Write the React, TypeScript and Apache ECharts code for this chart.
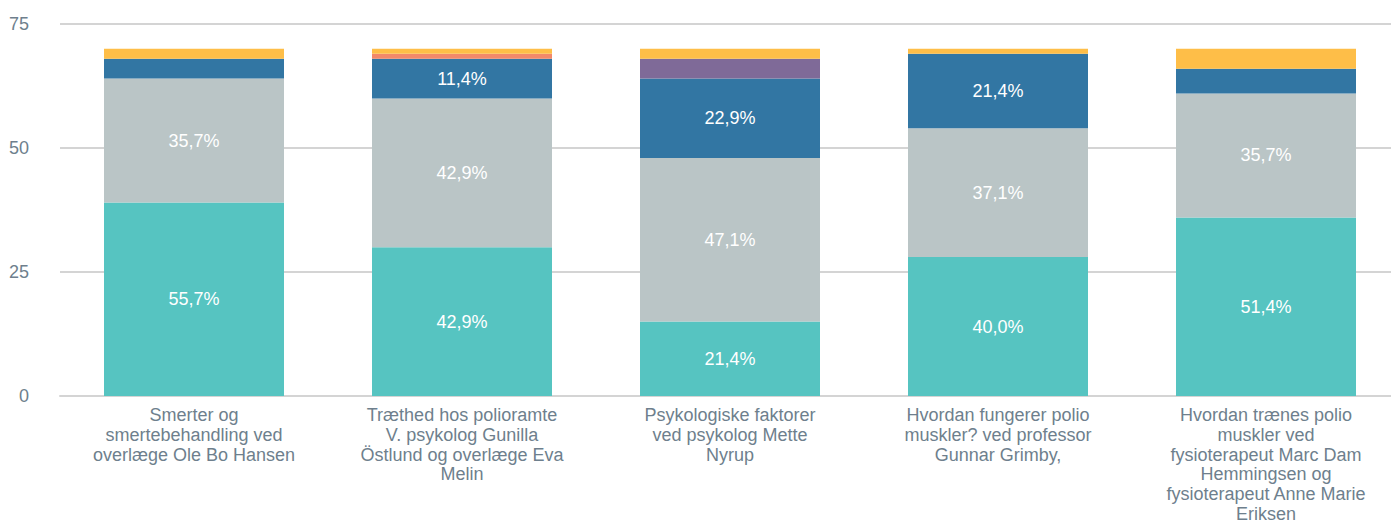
import React, { useEffect, useRef } from "react";
import * as echarts from "echarts";

const categories = [
  "Smerter og\nsmertebehandling ved\noverlæge Ole Bo Hansen",
  "Træthed hos polioramte\nV. psykolog Gunilla\nÖstlund og overlæge Eva\nMelin",
  "Psykologiske faktorer\nved psykolog Mette\nNyrup",
  "Hvordan fungerer polio\nmuskler? ved professor\nGunnar Grimby,",
  "Hvordan trænes polio\nmuskler ved\nfysioterapeut Marc Dam\nHemmingsen og\nfysioterapeut Anne Marie\nEriksen",
];

const tealValues = [39, 30, 15, 28, 36];
const grayValues = [25, 30, 33, 26, 25];
const blueValues = [4, 8, 16, 15, 5];
const purpleValues = [0, 0, 4, 0, 0];
const orangeValues = [0, 1, 0, 0, 0];
const yellowValues = [2, 1, 2, 1, 4];

const seriesDefs = [
  { name: "A", data: tealValues, color: "#56C4C1" },
  { name: "B", data: grayValues, color: "#BAC5C6" },
  { name: "C", data: blueValues, color: "#3276A3" },
  { name: "D", data: purpleValues, color: "#7F6A98" },
  { name: "E", data: orangeValues, color: "#F2896A" },
  { name: "F", data: yellowValues, color: "#FEBE48" },
];

const yTicks = [0, 25, 50, 75];

export default function App() {
  const ref = useRef<HTMLDivElement>(null);
  useEffect(() => {
    if (!ref.current) return;
    const chart = echarts.init(ref.current, null, { renderer: "svg" });
    const totals = categories.map((_, i) =>
      seriesDefs.reduce((s, d) => s + d.data[i], 0)
    );
    const font = "'Liberation Sans', Arial, sans-serif";
    chart.setOption({
      animation: false,
      textStyle: { fontFamily: font },
      grid: {
        left: 60,
        right: 0,
        top: 24,
        bottom: 128,
        containLabel: false,
        outerBoundsMode: "none",
      },
      xAxis: {
        type: "category",
        data: categories,
        axisLine: { show: true, lineStyle: { color: "#d4d4d4", width: 2 } },
        axisTick: { show: false },
        axisLabel: {
          color: "#6E7F8D",
          fontSize: 18,
          lineHeight: 19.8,
          fontFamily: font,
          interval: 0,
          margin: 9,
        },
      },
      yAxis: {
        type: "value",
        min: yTicks[0],
        max: yTicks[yTicks.length - 1],
        interval: 25,
        axisLine: { show: false },
        axisTick: { show: false },
        splitLine: { lineStyle: { color: "#d4d4d4", width: 2 } },
        axisLabel: {
          color: "#6E7F8D",
          fontSize: 18,
          fontFamily: font,
          margin: 31,
          padding: [0, 0, 8, 0],
        },
      },
      series: seriesDefs.map((d) => ({
        name: d.name,
        type: "bar",
        stack: "total",
        barWidth: 180,
        data: d.data,
        itemStyle: { color: d.color },
        label: {
          show: true,
          position: "inside",
          color: "#ffffff",
          fontSize: 18,
          fontFamily: font,
          formatter: (p: any) => {
            const pct = (p.value / totals[p.dataIndex]) * 100;
            if (pct < 10) return "";
            return pct.toFixed(1).replace(".", ",") + "%";
          },
        },
      })),
    });
    return () => chart.dispose();
  }, []);
  return (
    <div
      style={{
        position: "absolute",
        left: 0,
        top: 0,
        width: 1391,
        height: 524,
        overflow: "hidden",
      }}
    >
      <div ref={ref} style={{ width: 1400, height: 524 }} />
    </div>
  );
}
